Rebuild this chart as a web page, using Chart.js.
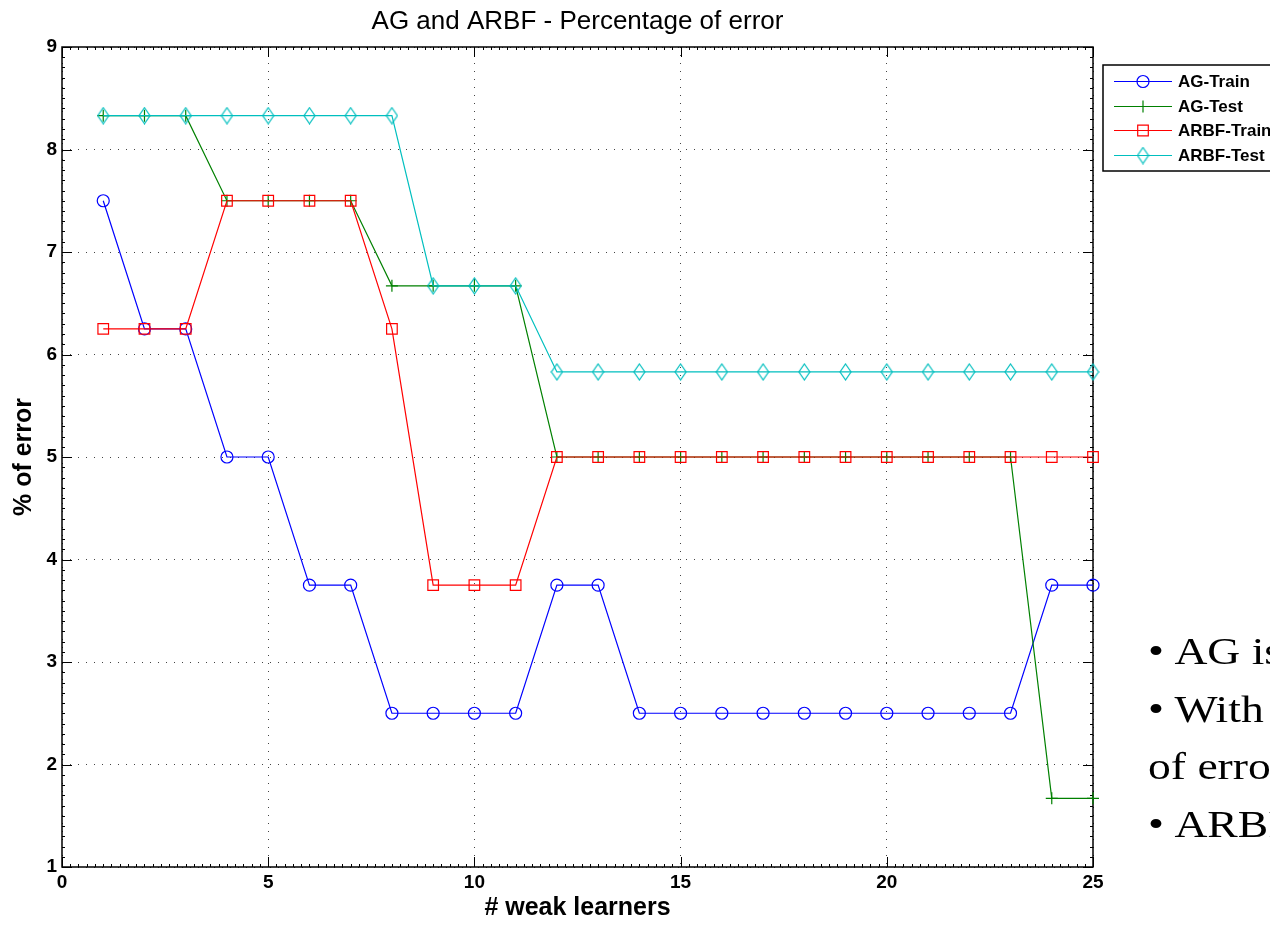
<!DOCTYPE html>
<html>
<head>
<meta charset="utf-8">
<title>AG and ARBF - Percentage of error</title>
<script src="https://cdn.jsdelivr.net/npm/chart.js@4.4.0/dist/chart.umd.min.js"></script>
<style>
  html, body { margin: 0; padding: 0; width: 1270px; height: 925px; overflow: hidden; background: #fff; }
  #errChart { position: absolute; left: 0; top: 0; }
  #notes {
    position: absolute; left: 1148px; top: 623px;
    font: 38px/57.5px "Liberation Serif", "Times New Roman", serif;
    color: #000; white-space: nowrap;
    transform: scaleX(1.2); transform-origin: 0 0;
  }
  #notes .b { display: inline-block; width: 22px; }
</style>
</head>
<body>
<canvas id="errChart" width="1270" height="925"></canvas>
<div id="notes">
  <div><span class="b">•</span>AG is</div>
  <div><span class="b">•</span>With</div>
  <div>of error</div>
  <div><span class="b">•</span>ARBF</div>
</div>

<script>
// === Data ====================================================================
const learners  = [1, 2, 3, 4, 5, 6, 7, 8, 9, 10, 11, 12, 13, 14, 15, 16, 17, 18, 19, 20, 21, 22, 23, 24, 25];
const agTrain   = [7.5, 6.25, 6.25, 5, 5, 3.75, 3.75, 2.5, 2.5, 2.5, 2.5, 3.75, 3.75, 2.5, 2.5, 2.5, 2.5, 2.5, 2.5, 2.5, 2.5, 2.5, 2.5, 3.75, 3.75];
const agTest    = [8.33, 8.33, 8.33, 7.5, 7.5, 7.5, 7.5, 6.67, 6.67, 6.67, 6.67, 5, 5, 5, 5, 5, 5, 5, 5, 5, 5, 5, 5, 1.67, 1.67];
const arbfTrain = [6.25, 6.25, 6.25, 7.5, 7.5, 7.5, 7.5, 6.25, 3.75, 3.75, 3.75, 5, 5, 5, 5, 5, 5, 5, 5, 5, 5, 5, 5, 5, 5];
const arbfTest  = [8.33, 8.33, 8.33, 8.33, 8.33, 8.33, 8.33, 8.33, 6.67, 6.67, 6.67, 5.83, 5.83, 5.83, 5.83, 5.83, 5.83, 5.83, 5.83, 5.83, 5.83, 5.83, 5.83, 5.83, 5.83];
const xTicks    = [0, 5, 10, 15, 20, 25];
const yTicks    = [1, 2, 3, 4, 5, 6, 7, 8, 9];

const FONT = '"Liberation Sans", Arial, Helvetica, sans-serif';
const BLUE = "#0000ff", GREEN = "#008000", RED = "#ff0000", CYAN = "#00bfbf";

// === Tall hollow diamond marker ==============================================
function makeDiamond(color) {
  const c = document.createElement("canvas");
  c.width = 13; c.height = 18;
  const g = c.getContext("2d");
  g.strokeStyle = color;
  g.lineWidth = 1.2;
  g.beginPath();
  g.moveTo(6.5, 1); g.lineTo(12, 9); g.lineTo(6.5, 17); g.lineTo(1, 9);
  g.closePath();
  g.stroke();
  return c;
}
const diamond = makeDiamond(CYAN);

const series = [
  { label: "AG-Train",   data: agTrain,   color: BLUE,  style: "circle", radius: 6,   order: 4 },
  { label: "AG-Test",    data: agTest,    color: GREEN, style: "cross",  radius: 6,   order: 3 },
  { label: "ARBF-Train", data: arbfTrain, color: RED,   style: "rect",   radius: 7.5, order: 2 },
  { label: "ARBF-Test",  data: arbfTest,  color: CYAN,  style: diamond,  radius: 8,   order: 1 },
];

// === Axes box, inward ticks, title, legend ===================================
const matlabFrame = {
  id: "matlabFrame",
  beforeDatasetsDraw(chart) {
    const { ctx, chartArea: a, scales: { x, y } } = chart;
    ctx.save();
    ctx.strokeStyle = "#000";
    ctx.lineWidth = 1;
    ctx.beginPath();
    for (let i = 0; i <= 125; i++) {
      const px = Math.round(x.getPixelForValue(i / 5)) + 0.5;
      const len = i % 25 === 0 ? 10 : 3;
      ctx.moveTo(px, a.bottom); ctx.lineTo(px, a.bottom - len);
      ctx.moveTo(px, a.top);    ctx.lineTo(px, a.top + len);
    }
    for (let i = 0; i <= 80; i++) {
      const py = Math.round(y.getPixelForValue(1 + i / 10)) + 0.5;
      const len = i % 10 === 0 ? 10 : 3;
      ctx.moveTo(a.left, py);  ctx.lineTo(a.left + len, py);
      ctx.moveTo(a.right, py); ctx.lineTo(a.right - len, py);
    }
    ctx.stroke();
    ctx.lineWidth = 1.5;
    ctx.strokeRect(a.left, a.top, a.right - a.left, a.bottom - a.top);
    ctx.restore();
  },
  afterDraw(chart) {
    const { ctx, chartArea: a } = chart;
    ctx.save();
    // title
    ctx.fillStyle = "#000";
    ctx.font = "26px " + FONT;
    ctx.textAlign = "center";
    ctx.textBaseline = "middle";
    ctx.fillText("AG and ARBF - Percentage of error", (a.left + a.right) / 2, 22);

    // legend box
    const bx = 1103, by = 65;
    ctx.fillStyle = "#fff";
    ctx.fillRect(bx, by, 200, 106);
    ctx.strokeStyle = "#000";
    ctx.lineWidth = 1.5;
    ctx.strokeRect(bx, by, 200, 106);
    ctx.font = "bold 17px " + FONT;
    ctx.textAlign = "left";
    series.forEach((s, i) => {
      const ly = Math.round(81 + i * 24.5) + 0.5;
      const mx = 1143;
      ctx.strokeStyle = s.color;
      ctx.lineWidth = 1.2;
      ctx.beginPath();
      ctx.moveTo(1114, ly); ctx.lineTo(1172, ly);
      ctx.stroke();
      ctx.beginPath();
      if (s.style === "circle") {
        ctx.arc(mx, ly, 6, 0, Math.PI * 2);
      } else if (s.style === "cross") {
        ctx.moveTo(mx - 6, ly); ctx.lineTo(mx + 6, ly);
        ctx.moveTo(mx, ly - 6); ctx.lineTo(mx, ly + 6);
      } else if (s.style === "rect") {
        ctx.rect(mx - 5.3, ly - 5.3, 10.6, 10.6);
      }
      ctx.stroke();
      if (s.style === diamond) ctx.drawImage(diamond, mx - 6.5, ly - 9);
      ctx.fillStyle = "#000";
      ctx.fillText(s.label, 1178, ly + 1);
    });
    ctx.restore();
  },
};

// === Chart ===================================================================
new Chart(document.getElementById("errChart"), {
  type: "line",
  data: {
    datasets: series.map((s) => ({
      label: s.label,
      data: learners.map((v, i) => ({ x: v, y: s.data[i] })),
      borderColor: s.color,
      borderWidth: 1.2,
      pointStyle: s.style,
      pointRadius: s.radius,
      pointBorderColor: s.color,
      pointBackgroundColor: "rgba(0,0,0,0)",
      pointBorderWidth: 1.2,
      tension: 0,
      fill: false,
      clip: false,
      order: s.order,
    })),
  },
  options: {
    responsive: false,
    animation: false,
    events: [],
    layout: { padding: { left: 0, top: 47, right: 177, bottom: 0 } },
    plugins: {
      legend: { display: false },
      title: { display: false },
      tooltip: { enabled: false },
    },
    scales: {
      x: {
        type: "linear",
        min: 0,
        max: 25,
        afterFit: (scale) => { scale.height = 58; },
        afterBuildTicks: (scale) => { scale.ticks = xTicks.map((v) => ({ value: v })); },
        ticks: { color: "#000", font: { family: FONT, size: 19, weight: "bold" }, padding: 4, maxRotation: 0 },
        grid: { color: "#444", lineWidth: 1, drawTicks: false },
        border: { display: false, dash: [1, 7] },
        title: {
          display: true,
          text: "# weak learners",
          color: "#000",
          font: { family: FONT, size: 25, weight: "bold" },
          padding: { top: 0, bottom: 2 },
        },
      },
      y: {
        min: 1,
        max: 9,
        afterFit: (scale) => { scale.width = 62; },
        afterBuildTicks: (scale) => { scale.ticks = yTicks.map((v) => ({ value: v })); },
        ticks: { color: "#000", font: { family: FONT, size: 19, weight: "bold" }, padding: 5 },
        grid: { color: "#444", lineWidth: 1, drawTicks: false },
        border: { display: false, dash: [1, 7] },
        title: {
          display: true,
          text: "% of error",
          color: "#000",
          font: { family: FONT, size: 25, weight: "bold" },
          padding: { top: 9, bottom: 0 },
        },
      },
    },
  },
  plugins: [matlabFrame],
});
</script>
</body>
</html>
